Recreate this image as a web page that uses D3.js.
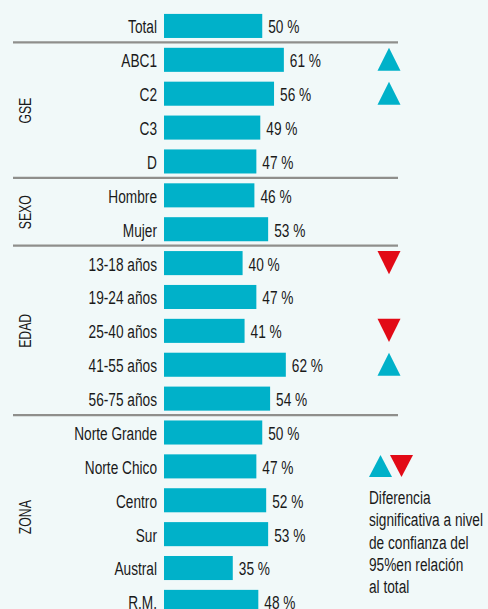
<!DOCTYPE html>
<html>
<head>
<meta charset="utf-8">
<script src="https://cdn.jsdelivr.net/npm/d3@7"></script>
<style>
  html, body { margin: 0; padding: 0; background: #f1f9f9; }
  text { font-family: "Liberation Sans", Arial, sans-serif; fill: #1a1a1a; }
</style>
</head>
<body>
<svg id="chart"></svg>
<script>
// row labels, values, group of each row and significance marks
const categories = ['Total', 'ABC1', 'C2', 'C3', 'D', 'Hombre', 'Mujer',
    '13-18 años', '19-24 años', '25-40 años', '41-55 años', '56-75 años',
    'Norte Grande', 'Norte Chico', 'Centro', 'Sur', 'Austral', 'R.M.'];
const values = [50, 61, 56, 49, 47, 46, 53, 40, 47, 41, 62, 54, 50, 47, 52, 53, 35, 48];
const rowGroup = ['', 'GSE', 'GSE', 'GSE', 'GSE', 'SEXO', 'SEXO',
    'EDAD', 'EDAD', 'EDAD', 'EDAD', 'EDAD',
    'ZONA', 'ZONA', 'ZONA', 'ZONA', 'ZONA', 'ZONA'];
const signif = ['', 'up', 'up', '', '', '', '', 'down', '', 'down', 'up', '', '', '', '', '', '', ''];
const groupNames = ['GSE', 'SEXO', 'EDAD', 'ZONA'];
const legendLines = ['Diferencia', 'significativa a nivel', 'de confianza del', '95%en relación', 'al total'];

var width = 488, height = 609;
var barColor = '#00b1c9', downColor = '#e20a16', ruleColor = '#8f8f8c';
var squeeze = 0.72;   // no condensed font installed, so narrow the glyphs by hand

var svg = d3.select('#chart')
    .attr('width', width)
    .attr('height', height);

var x = d3.scaleLinear()
    .domain([0, 100])
    .range([164, 360.5]);

var y = d3.scaleBand()
    .domain(categories)
    .range([9, 9 + 18 * 33.88])
    .paddingInner(0.29)
    .paddingOuter(0.145);

var rows = categories.map((c, i) => ({ cat: c, value: values[i], group: rowGroup[i], mark: signif[i] }));

function place(px, py) {
    return 'translate(' + px + ',' + py + ') scale(' + squeeze + ',1)';
}

///////////////////////////////
// separators
///////////////////////////////
var gaps = (y.step() - y.bandwidth()) / 2;
var breaks = rows.filter((d, i) => i < rows.length - 1 && rows[i + 1].group != d.group);

svg.append('g')
    .selectAll('line')
    .data(breaks)
    .enter()
    .append('line')
        .attr('x1', 13)
        .attr('x2', 398)
        .attr('y1', d => y(d.cat) + y.bandwidth() + gaps - 0.5)
        .attr('y2', d => y(d.cat) + y.bandwidth() + gaps - 0.5)
        .attr('stroke', ruleColor)
        .attr('stroke-width', 2.3);

///////////////////////////////
// bars + labels
///////////////////////////////
svg.append('g')
    .selectAll('rect')
    .data(rows)
    .enter()
    .append('rect')
        .attr('x', x(0))
        .attr('y', d => y(d.cat))
        .attr('width', d => x(d.value) - x(0))
        .attr('height', y.bandwidth())
        .attr('fill', barColor);

svg.append('g')
    .selectAll('text')
    .data(rows)
    .enter()
    .append('text')
        .attr('transform', d => place(x(0) - 7, y(d.cat) + y.bandwidth() / 2))
        .attr('dy', '0.39em')
        .attr('text-anchor', 'end')
        .attr('font-size', 19)
        .text(d => d.cat);

svg.append('g')
    .selectAll('text')
    .data(rows)
    .enter()
    .append('text')
        .attr('transform', d => place(x(d.value) + 6, y(d.cat) + y.bandwidth() / 2))
        .attr('dy', '0.39em')
        .attr('font-size', 19)
        .text(d => d.value + ' %');

///////////////////////////////
// group labels (rotated)
///////////////////////////////
svg.append('g')
    .selectAll('text')
    .data(groupNames)
    .enter()
    .append('text')
        .attr('transform', g => {
            var members = rows.filter(d => d.group == g);
            var cy = (y(members[0].cat) + y(members[members.length - 1].cat) + y.bandwidth()) / 2;
            return 'translate(25,' + cy + ') rotate(-90) scale(' + squeeze + ',1)';
        })
        .attr('dy', '0.36em')
        .attr('text-anchor', 'middle')
        .attr('font-size', 17)
        .text(g => g);

///////////////////////////////
// significance triangles
///////////////////////////////
function tri(cx, top, w, h, dir) {
    var p = d3.path();
    if (dir == 'up') {
        p.moveTo(cx - w / 2, top + h);
        p.lineTo(cx + w / 2, top + h);
        p.lineTo(cx, top);
    } else {
        p.moveTo(cx - w / 2, top);
        p.lineTo(cx + w / 2, top);
        p.lineTo(cx, top + h);
    }
    p.closePath();
    return p.toString();
}

svg.append('g')
    .selectAll('path')
    .data(rows.filter(d => d.mark != ''))
    .enter()
    .append('path')
        .attr('d', d => tri(389, y(d.cat), 23, y.bandwidth() - 1, d.mark))
        .attr('fill', d => d.mark == 'up' ? barColor : downColor);

///////////////////////////////
// legend
///////////////////////////////
var legend = svg.append('g').attr('transform', 'translate(369,455)');

legend.append('path')
    .attr('d', tri(11.5, 0, 23, 22, 'up'))
    .attr('fill', barColor);
legend.append('path')
    .attr('d', tri(32.5, 0, 23, 22, 'down'))
    .attr('fill', downColor);

legend.append('g')
    .selectAll('text')
    .data(legendLines)
    .enter()
    .append('text')
        .attr('transform', (d, i) => place(0, 42 + i * 22.4))
        .attr('dy', '0.36em')
        .attr('font-size', 19)
        .text(d => d);
</script>
</body>
</html>
